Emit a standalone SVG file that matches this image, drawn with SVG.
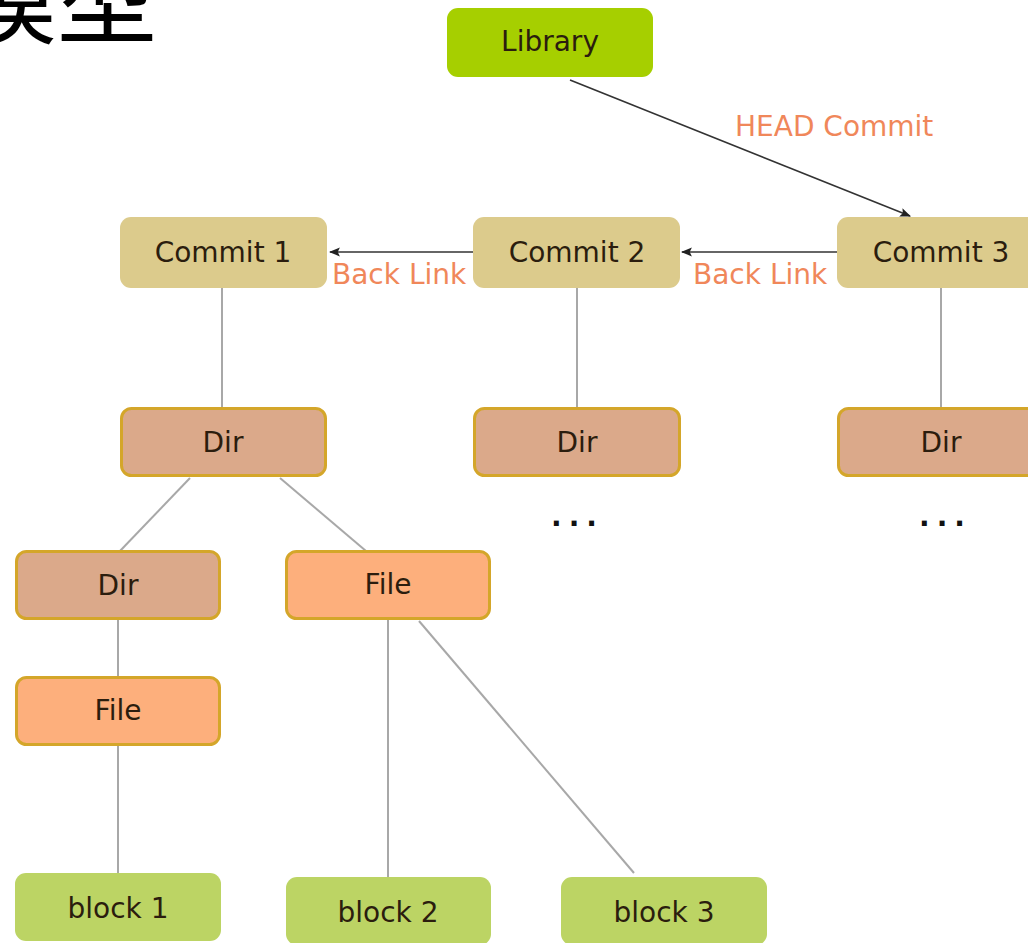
<svg xmlns="http://www.w3.org/2000/svg" width="1028" height="943" viewBox="0 0 1028 943">
<style>
.t{font-family:"DejaVu Sans","Noto Sans",sans-serif;font-size:28px;text-anchor:middle;fill:#2b1d0e}
.dots{font-family:"DejaVu Sans",sans-serif;font-size:28px;font-weight:bold;letter-spacing:7px;fill:#111}
.lbl{font-family:"DejaVu Sans","Noto Sans",sans-serif;font-size:28px;fill:#f0875a}
.lib{fill:#a6cf00}
.commit{fill:#dccb8c}
.dir{fill:#dba98a;stroke:#d4a62a;stroke-width:3}
.file{fill:#fdaf7c;stroke:#d4a62a;stroke-width:3}
.block{fill:#bcd464}
.tree{stroke:#a8a8a8;stroke-width:2;fill:none}
.arr{stroke:#333;stroke-width:1.6;fill:none;marker-end:url(#ah)}
</style>
<defs>
<marker id="ah" viewBox="0 0 10 10" refX="9" refY="5" markerWidth="11" markerHeight="11" markerUnits="userSpaceOnUse" orient="auto">
<path d="M0,1 L10,5 L0,9 L2,5 z" fill="#222"/>
</marker>
</defs>
<rect width="1028" height="943" fill="#ffffff"/>
<text x="-43" y="36" font-family="'Noto Sans CJK SC',serif" font-size="100" fill="#000">模型</text>
<g id="connectors">
<line class="tree" x1="222" y1="288" x2="222" y2="408"/>
<line class="tree" x1="577" y1="288" x2="577" y2="408"/>
<line class="tree" x1="941" y1="288" x2="941" y2="408"/>
<line class="tree" x1="190" y1="478" x2="120" y2="551"/>
<line class="tree" x1="280" y1="478" x2="366" y2="551"/>
<line class="tree" x1="118" y1="619" x2="118" y2="677"/>
<line class="tree" x1="118" y1="745" x2="118" y2="873"/>
<line class="tree" x1="388" y1="619" x2="388" y2="877"/>
<line class="tree" x1="419" y1="621" x2="634" y2="873"/>
<line class="arr" x1="570" y1="80" x2="910" y2="216"/>
<line class="arr" x1="473" y1="252" x2="330" y2="252"/>
<line class="arr" x1="837" y1="252" x2="682" y2="252"/>
<text class="lbl" x="735" y="136">HEAD Commit</text>
<text class="lbl" x="332" y="284">Back Link</text>
<text class="lbl" x="693" y="284">Back Link</text>
</g>
<g id="library"><rect class="lib" x="447" y="8" width="206" height="69" rx="11"/><text class="t" x="550" y="51">Library</text></g>
<g id="commit1"><rect class="commit" x="120" y="217" width="207" height="71" rx="11"/><text class="t" x="223" y="262">Commit 1</text></g>
<g id="commit2"><rect class="commit" x="473" y="217" width="207" height="71" rx="11"/><text class="t" x="577" y="262">Commit 2</text></g>
<g id="commit3"><rect class="commit" x="837" y="217" width="208" height="71" rx="11"/><text class="t" x="941" y="262">Commit 3</text></g>
<g id="dir1"><rect class="dir" x="121.5" y="408.5" width="204" height="67" rx="10"/><text class="t" x="223" y="452">Dir</text></g>
<g id="dir2"><rect class="dir" x="474.5" y="408.5" width="205" height="67" rx="10"/><text class="t" x="577" y="452">Dir</text></g>
<g id="dir3"><rect class="dir" x="838.5" y="408.5" width="206" height="67" rx="10"/><text class="t" x="941" y="452">Dir</text></g>
<g id="more2"><text class="dots" x="551" y="526">...</text></g>
<g id="more3"><text class="dots" x="919" y="526">...</text></g>
<g id="dir4"><rect class="dir" x="16.5" y="551.5" width="203" height="67" rx="10"/><text class="t" x="118" y="595">Dir</text></g>
<g id="file1"><rect class="file" x="286.5" y="551.5" width="203" height="67" rx="10"/><text class="t" x="388" y="594">File</text></g>
<g id="file2"><rect class="file" x="16.5" y="677.5" width="203" height="67" rx="10"/><text class="t" x="118" y="720">File</text></g>
<g id="block1"><rect class="block" x="15" y="873" width="206" height="68" rx="11"/><text class="t" x="118" y="918">block 1</text></g>
<g id="block2"><rect class="block" x="286" y="877" width="205" height="68" rx="11"/><text class="t" x="388" y="922">block 2</text></g>
<g id="block3"><rect class="block" x="561" y="877" width="206" height="68" rx="11"/><text class="t" x="664" y="922">block 3</text></g>
</svg>
